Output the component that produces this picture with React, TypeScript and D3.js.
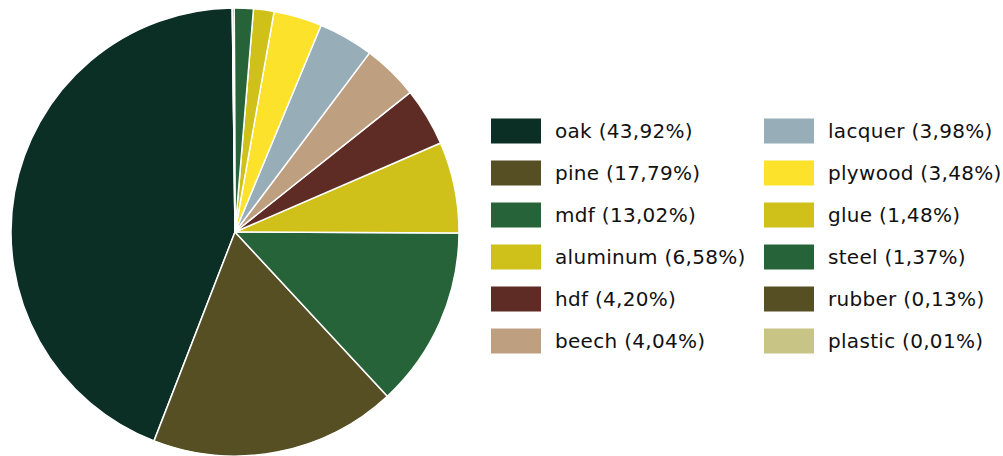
import * as d3 from 'd3';
import { useEffect, useRef } from 'react';

const materials = ['oak', 'pine', 'mdf', 'aluminum', 'hdf', 'beech', 'lacquer', 'plywood', 'glue', 'steel', 'rubber', 'plastic'];
const shares = [43.92, 17.79, 13.02, 6.58, 4.2, 4.04, 3.98, 3.48, 1.48, 1.37, 0.13, 0.01];
const colors = ['#0c2f25', '#564f24', '#276339', '#cfc119', '#5e2c24', '#bea081', '#97adb8', '#fce22a', '#cfc119', '#276339', '#564f24', '#c8c486'];

const W = 1003;
const H = 456;

export default function App() {
  const ref = useRef<SVGSVGElement | null>(null);

  useEffect(() => {
    const svg = d3.select(ref.current);
    svg.selectAll('*').remove();

    const data = materials.map((m, i) => ({ name: m, value: shares[i], color: colors[i] }));
    const cx = 235;
    const cy = 232;
    const r = 224;
    const start = (-0.7 * Math.PI) / 180;

    // smallest slices start at 12 o'clock, going clockwise
    const pie = d3
      .pie<any>()
      .value((d) => d.value)
      .sort((a, b) => a.value - b.value)
      .startAngle(start)
      .endAngle(start + 2 * Math.PI);
    const arc = d3.arc<any>().innerRadius(0).outerRadius(r);

    svg
      .append('g')
      .attr('transform', `translate(${cx},${cy})`)
      .selectAll('path')
      .data(pie(data))
      .join('path')
      .attr('d', arc)
      .attr('fill', (d) => d.data.color)
      .attr('stroke', '#fff')
      .attr('stroke-width', 1.5)
      .attr('stroke-linejoin', 'round');

    const fmt = (v: number) => v.toFixed(2).replace('.', ',');
    const rowY = d3.scalePoint<number>().domain(d3.range(6)).range([131, 341]);
    const colX = [491, 764];

    const legend = svg
      .append('g')
      .attr('font-family', '"DejaVu Sans", sans-serif')
      .attr('font-size', 20)
      .attr('letter-spacing', 0.3)
      .selectAll('g')
      .data(data)
      .join('g')
      .attr('transform', (_, i) => `translate(${colX[Math.floor(i / 6)]},${rowY(i % 6)})`);

    legend
      .append('rect')
      .attr('x', 0)
      .attr('y', -12.5)
      .attr('width', 50)
      .attr('height', 25)
      .attr('fill', (d) => d.color);

    legend
      .append('text')
      .attr('x', 64)
      .attr('dy', '0.35em')
      .attr('fill', '#111')
      .text((d) => `${d.name} (${fmt(d.value)}%)`);
  }, []);

  return <svg ref={ref} width={W} height={H} style={{ position: 'absolute', left: 0, top: 0 }} />;
}
